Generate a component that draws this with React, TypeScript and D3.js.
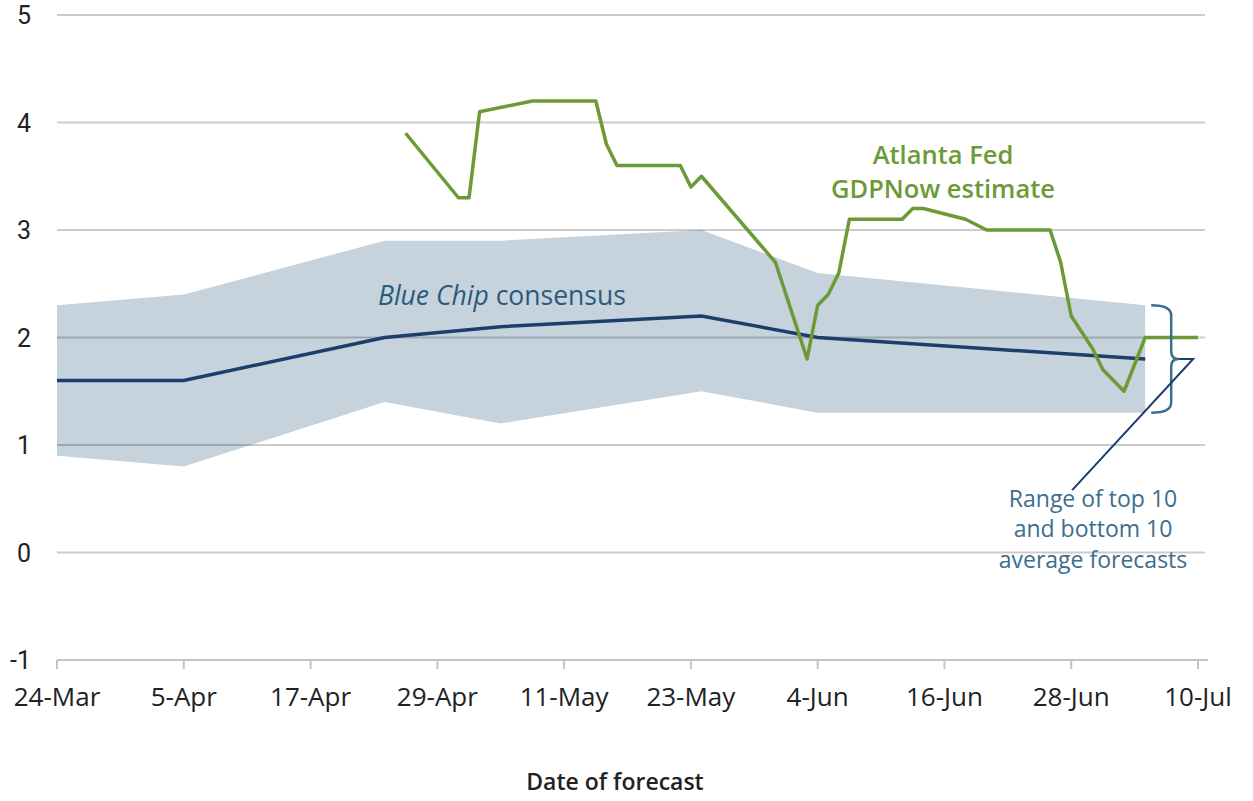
import React from "react";
import * as d3 from "d3";

// ---- data ----
const bandDates = ["2017-03-24", "2017-04-05", "2017-04-24", "2017-05-05", "2017-05-24", "2017-06-04", "2017-07-05"];
const bandUpper = [2.3, 2.4, 2.9, 2.9, 3.0, 2.6, 2.3];
const bandLower = [0.9, 0.8, 1.4, 1.2, 1.5, 1.3, 1.3];
const consensus = [1.6, 1.6, 2.0, 2.1, 2.2, 2.0, 1.8];

const gdpDates = [
  "2017-04-26", "2017-05-01", "2017-05-02", "2017-05-03", "2017-05-08", "2017-05-14", "2017-05-15",
  "2017-05-16", "2017-05-22", "2017-05-23", "2017-05-24", "2017-05-31", "2017-06-03", "2017-06-04",
  "2017-06-05", "2017-06-06", "2017-06-07", "2017-06-12", "2017-06-13", "2017-06-14", "2017-06-18",
  "2017-06-20", "2017-06-26", "2017-06-27", "2017-06-28", "2017-06-30", "2017-07-01", "2017-07-03",
  "2017-07-05", "2017-07-10",
];
const gdpNow = [
  3.9, 3.3, 3.3, 4.1, 4.2, 4.2, 3.8,
  3.6, 3.6, 3.4, 3.5, 2.7, 1.8, 2.3,
  2.4, 2.6, 3.1, 3.1, 3.2, 3.2, 3.1,
  3.0, 3.0, 2.7, 2.2, 1.9, 1.7, 1.5,
  2.0, 2.0,
];

const xTickDates = ["2017-03-24", "2017-04-05", "2017-04-17", "2017-04-29", "2017-05-11", "2017-05-23", "2017-06-04", "2017-06-16", "2017-06-28", "2017-07-10"];
const xTickLabels = ["24-Mar", "5-Apr", "17-Apr", "29-Apr", "11-May", "23-May", "4-Jun", "16-Jun", "28-Jun", "10-Jul"];
const yTicks = [-1, 0, 1, 2, 3, 4, 5];

const parse = d3.utcParse("%Y-%m-%d");
const FONT = "'Open Sans', Roboto, sans-serif";

export default function App() {
  const W = 1253, H = 801;
  const x = d3.scaleUtc().domain([parse("2017-03-24")!, parse("2017-07-10")!]).range([57, 1198]);
  const y = d3.scaleLinear().domain([-1, 5]).range([660, 15]);
  const gridRight = 1205;

  const band = bandDates.map((d, i) => ({ d: parse(d)!, lo: bandLower[i], hi: bandUpper[i], c: consensus[i] }));
  const gdp = gdpDates.map((d, i) => ({ d: parse(d)!, v: gdpNow[i] }));

  const area = d3.area<any>().x((p) => x(p.d)).y0((p) => y(p.lo)).y1((p) => y(p.hi));
  const cLine = d3.line<any>().x((p) => x(p.d)).y((p) => y(p.c));
  const gLine = d3.line<any>().x((p) => x(p.d)).y((p) => y(p.v));

  const last = band[band.length - 1];
  const bx = x(last.d) + 6;
  const bTop = y(last.hi);
  const bBot = y(last.lo);
  const bMid = y(last.c);
  const vx = bx + 20;
  const bracket = `M${bx},${bTop} Q${vx},${bTop} ${vx},${bTop + 10} L${vx},${bMid - 8} Q${vx},${bMid} ${vx + 7},${bMid} Q${vx},${bMid} ${vx},${bMid + 8} L${vx},${bBot - 10} Q${vx},${bBot} ${bx},${bBot}`;
  const leader = `M${vx + 7},${bMid} L${vx + 22},${bMid} L${vx - 99},${y(0.58)}`;

  return (
    <svg width={W} height={H} style={{ position: "absolute", left: 0, top: 0, background: "#fff" }} fontFamily={FONT}>
      <path d={area(band)!} fill="#c6d3dc" />
      {yTicks.filter((t) => t >= 0).map((t) => (
        <line key={t} x1={57} x2={gridRight} y1={y(t)} y2={y(t)} stroke="#000" strokeOpacity={0.2} strokeWidth={2} />
      ))}
      {/* x axis */}
      <line x1={57} x2={1208} y1={y(-1)} y2={y(-1)} stroke="#c4c4c4" strokeWidth={2} />
      {xTickDates.map((d, i) => (
        <g key={d}>
          <line x1={x(parse(d)!)} x2={x(parse(d)!)} y1={y(-1)} y2={y(-1) + 9} stroke="#c4c4c4" strokeWidth={2} />
          <text x={x(parse(d)!)} y={706} textAnchor="middle" fontSize={26} fill="#222">{xTickLabels[i]}</text>
        </g>
      ))}
      {yTicks.map((t) => (
        <text key={t} x={31} y={y(t) + 9} textAnchor="end" fontSize={25} fontFamily="Roboto, sans-serif" fill="#222">{t}</text>
      ))}
      <path d={cLine(band)!} fill="none" stroke="#1d3e6c" strokeWidth={3.5} />
      <path d={gLine(gdp)!} fill="none" stroke="#6b9a36" strokeWidth={3.5} strokeLinejoin="round" />
      <path d={bracket} fill="none" stroke="#3b6e8e" strokeWidth={2.5} />
      <path d={leader} fill="none" stroke="#1d3e6c" strokeWidth={2} />

      <text x={378} y={305} fontSize={26.5} fill="#2a5a7e">
        <tspan fontStyle="italic">Blue Chip</tspan> consensus
      </text>
      <text x={943} y={164} textAnchor="middle" fontSize={25.5} fontWeight="600" fill="#6b9a36">Atlanta Fed</text>
      <text x={943} y={198} textAnchor="middle" fontSize={25.5} fontWeight="600" fill="#6b9a36">GDPNow estimate</text>

      <text x={1093} y={507} textAnchor="middle" fontSize={23} fill="#3b6e8e">Range of top 10</text>
      <text x={1093} y={537} textAnchor="middle" fontSize={23} fill="#3b6e8e">and bottom 10</text>
      <text x={1093} y={568} textAnchor="middle" fontSize={23} fill="#3b6e8e">average forecasts</text>

      <text x={615} y={790} textAnchor="middle" fontSize={23} fontWeight="600" fill="#222">Date of forecast</text>
    </svg>
  );
}
